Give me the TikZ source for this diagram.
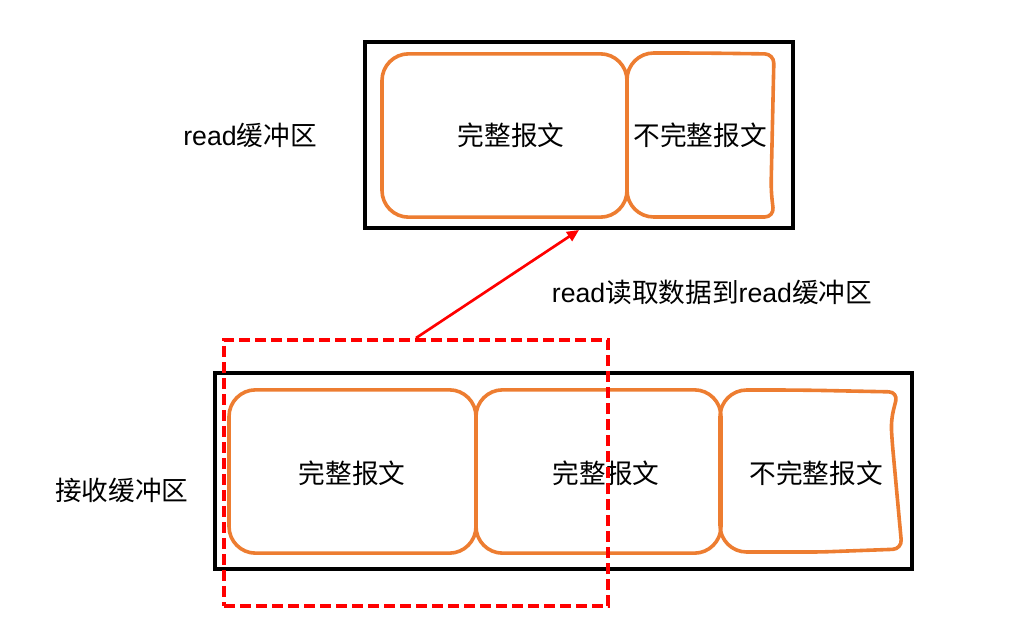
\documentclass[tikz,border=0pt]{standalone}
\usepackage{fontspec}
\setmainfont{Liberation Sans}
\newfontfamily\cjk{Noto Sans CJK SC}
\usetikzlibrary{arrows.meta, positioning}
\definecolor{msgorange}{HTML}{ED7D31}
\definecolor{selred}{HTML}{FF0000}

\begin{document}
\begin{tikzpicture}[x=0.75pt, y=-0.75pt,
  buf/.style={draw=black, line width=3pt, inner sep=0pt},
  msg/.style={draw=msgorange, line width=2.7pt, rounded corners=20pt,
              inner sep=0pt, minimum height=122.5pt},
  msgline/.style={draw=msgorange, line width=2.7pt, line join=round},
  txt/.style={font=\fontsize{20}{24}\selectfont\cjk, inner sep=0pt},
  lbl/.style={font=\fontsize{20}{24}\selectfont, inner sep=0pt},
  sel/.style={draw=selred, line width=3pt, inner sep=0pt,
              dash pattern=on 8pt off 4pt},
  arr/.style={-{Triangle[length=9pt, width=8pt]}, selred, line width=2pt}
]
\useasboundingbox (0,0) rectangle (1014,622);

% read buffer
\node[buf, minimum width=321pt, minimum height=139.5pt] (rbuf) at (579,135) {};
\node[msg, minimum width=183.75pt] (rfull) at (504.5,135.5) {};
\draw[msgline] (627,135) [rounded corners=20pt] -- (627,53) -- (700,53)
  [rounded corners=7pt] -- (774,54) -- (771,190) -- (774,217) -- (700,217)
  [rounded corners=20pt] -- (627,217) -- cycle;
\node[txt] (rfulltxt) at (511,135) {完整报文};
\node[txt] (rparttxt) at (700,135) {不完整报文};
\node[lbl] (rlbl) at (250,135) {read{\cjk 缓冲区}};

% receive buffer
\node[buf, minimum width=522.75pt, minimum height=147pt] (sbuf) at (563.5,471) {};
\node[msg, minimum width=185.25pt] (sfull1) at (352.5,471.5) {};
\node[msg, minimum width=183.75pt] (sfull2) at (598.5,471.5) {};
\draw[msgline] (720,470) [rounded corners=20pt] -- (720,390) -- (800,390)
  [rounded corners=7pt] -- (898,392) -- (891,420) -- (892,440) -- (902,549)
  -- (820,552) [rounded corners=20pt] -- (720,552) -- cycle;
\node[txt] (sfull1txt) at (352,473) {完整报文};
\node[txt] (sfull2txt) at (606,473) {完整报文};
\node[txt] (sparttxt) at (816,473) {不完整报文};
\node[lbl] (slbl) at (122,490) {\cjk 接收缓冲区};

% data taken by read
\node[sel, minimum width=288pt, minimum height=199.5pt] (sel) at (416,473) {};
\draw[arr] (sel.north) -- (rbuf.south);
\node[lbl] (arrlbl) at (712,292) {read{\cjk 读取数据到}read{\cjk 缓冲区}};

\end{tikzpicture}
\end{document}
